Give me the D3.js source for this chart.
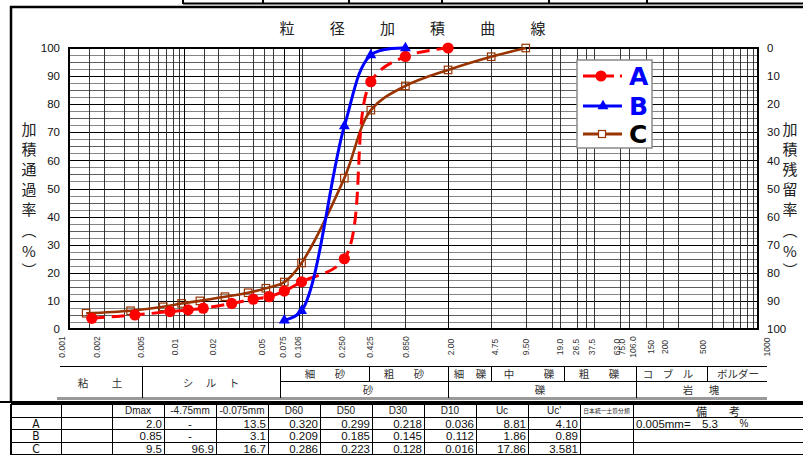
<!DOCTYPE html>
<html><head><meta charset="utf-8">
<script src="https://cdn.jsdelivr.net/npm/d3@7"></script>
<style>body{margin:0;background:#fff;} svg{display:block;}</style>
</head><body><svg id="c" width="803" height="455"></svg>
<script>
// ---------------- DATA ----------------
const sizesA = [0.00158,0.00375,0.00757,0.0109,0.01475,0.0261,0.0402,0.0553,0.075,0.106,0.25,0.425,0.85,2.0];
const passA  = [3.8,5.0,6.2,6.8,7.4,9.1,10.6,11.5,13.5,16.8,25,88,97,100];
const sizesB = [0.075,0.106,0.25,0.425,0.85];
const passB  = [3.1,6.5,72.2,97.5,100];
const sizesC = [0.00141,0.00344,0.00662,0.00957,0.0138,0.0228,0.0363,0.0518,0.075,0.106,0.25,0.425,0.85,2.0,4.75,9.5];
const passC  = [5.6,6.5,7.9,9.1,10.0,11.5,12.9,14.5,16.7,23.5,53.7,77.9,86.5,92.2,96.9,100];
const seriesNames = ["A","B","C"];
const xTickValues = [0.001,0.002,0.005,0.01,0.02,0.05,0.075,0.106,0.25,0.425,0.85,2,4.75,9.5,19,26.5,37.5,63,75,106,150,200,500,1000];
const xTickLabels = ["0.001","0.002","0.005","0.01","0.02","0.05","0.075","0.106","0.250","0.425","0.850","2.00","4.75","9.50","19.0","26.5","37.5","63.0","75.0","106.0","150","200","500","1000"];
const yTicks = [0,10,20,30,40,50,60,70,80,90,100];
const gridSizes = [0.0015,0.002,0.003,0.004,0.005,0.006,0.007,0.008,0.009,0.01,0.015,0.02,0.03,0.04,0.05,0.06,0.075,0.1,0.106,0.25,0.425,0.85,2,4.75,9.5,16,19,26.5,31.5,37.5,63,75,106,150,200,400,500,600,700,800,900];
const titleChars = ["粒","径","加","積","曲","線"];
const leftTitle = ["加","積","通","過","率","︵","%","︶"];
const rightTitle = ["加","積","残","留","率","︵","%","︶"];
const tableHeader = ["","","Dmax","-4.75mm","-0.075mm","D60","D50","D30","D10","Uc","Uc'","日本統一土質分類","備　　考"];
const rowA = ["A","","2.0","-","13.5","0.320","0.299","0.218","0.036","8.81","4.10","",""];
const rowB = ["B","","0.85","-","3.1","0.209","0.185","0.145","0.112","1.86","0.89","",""];
const rowC = ["C","","9.5","96.9","16.7","0.286","0.223","0.128","0.016","17.86","3.581","",""];
const remarkA = ["0.005mm=","5.3","%"];

// ---------------- LAYOUT ----------------
const svg = d3.select("#c");
const M = {l:69, r:758, t:48, b:329};
const x = d3.scaleLog().domain([0.001,1000]).range([M.l,M.r]);
const y = d3.scaleLinear().domain([0,100]).range([M.b,M.t]);
const yR = d3.scaleLinear().domain([100,0]).range([M.b,M.t]);
const xLab = d3.scaleLog()
  .domain([0.001,0.01,0.075,0.1,1,4.75,10,63,100,200,500,1000])
  .range([62,175,283,294,414,495,528,617,630,665,703,767]);
const SANS = "'Liberation Sans', Arial, sans-serif";
const CJK = "'Noto Sans CJK JP', 'Noto Sans', sans-serif";

// top decorations
const topCols = [183,263,349,442,549,647];
svg.selectAll(".tc").data(topCols).enter().append("line")
  .attr("x1",d=>d).attr("x2",d=>d).attr("y1",0).attr("y2",4)
  .attr("stroke","#000").attr("stroke-width",2);
svg.append("line").attr("x1",183).attr("x2",803).attr("y1",3.5).attr("y2",3.5).attr("stroke","#000").attr("stroke-width",2);
// frame
svg.append("path").attr("d","M11,402 L11,7 L803,7").attr("fill","none").attr("stroke","#000").attr("stroke-width",2.5);
svg.append("line").attr("x1",0).attr("x2",803).attr("y1",402).attr("y2",402).attr("stroke","#000").attr("stroke-width",2);

// title
svg.selectAll(".tt").data(titleChars).enter().append("text")
  .attr("x",(d,i)=>287+i*50.2).attr("y",34).attr("text-anchor","middle")
  .attr("font-family",CJK).attr("font-size",15).attr("fill","#222").text(d=>d);

// grid
const grid = svg.append("g").attr("shape-rendering","crispEdges");
grid.selectAll(".hg").data(d3.range(0,100.01,2.5)).enter().append("line")
  .attr("x1",M.l).attr("x2",M.r).attr("y1",d=>Math.round(y(d))+0.5).attr("y2",d=>Math.round(y(d))+0.5)
  .attr("stroke",d=>d%10===0?"#000":(d%5===0?"#333":"#666"))
  .attr("stroke-width",d=>d%10===0?1.2:0.8);
const majorV = [0.01,0.075,0.1,2];
grid.selectAll(".vg").data(gridSizes).enter().append("line")
  .attr("x1",d=>Math.round(x(d))+0.5).attr("x2",d=>Math.round(x(d))+0.5).attr("y1",M.t).attr("y2",M.b)
  .attr("stroke",d=>majorV.includes(d)?"#000":"#222")
  .attr("stroke-width",d=>majorV.includes(d)?1.4:0.9);
svg.append("rect").attr("x",M.l).attr("y",M.t).attr("width",M.r-M.l).attr("height",M.b-M.t)
  .attr("fill","none").attr("stroke","#000").attr("stroke-width",2);

// axes
const axL = svg.append("g").attr("transform",`translate(${M.l},0)`)
  .call(d3.axisLeft(y).tickValues(yTicks).tickSize(0).tickPadding(9));
const axR = svg.append("g").attr("transform",`translate(${M.r},0)`)
  .call(d3.axisRight(yR).tickValues(yTicks).tickSize(0).tickPadding(9));
[axL,axR].forEach(a=>{a.select(".domain").remove();
  a.selectAll("text").attr("font-family",SANS).attr("font-size",11.5).attr("fill","#111");});
const axB = svg.append("g").attr("transform",`translate(0,${M.b})`)
  .call(d3.axisBottom(xLab).tickValues(xTickValues).tickSize(0).tickFormat((d,i)=>xTickLabels[i]));
axB.select(".domain").remove();
axB.selectAll("text").attr("transform","rotate(-90)").attr("x",-18).attr("y",0).attr("dy","0.35em")
  .attr("text-anchor","middle").attr("font-family",SANS).attr("font-size",8.5).attr("fill","#333");

// axis titles
const tY = [128,148,168,188,208,229,250,269];
svg.selectAll(".lt").data(leftTitle).enter().append("text")
  .attr("x",29).attr("y",(d,i)=>tY[i]).attr("text-anchor","middle").attr("dominant-baseline","central")
  .attr("font-family",CJK).attr("font-size",15).attr("fill","#222").text(d=>d);
svg.selectAll(".rt").data(rightTitle).enter().append("text")
  .attr("x",790).attr("y",(d,i)=>tY[i]).attr("text-anchor","middle").attr("dominant-baseline","central")
  .attr("font-family",CJK).attr("font-size",15).attr("fill","#222").text(d=>d);

// series
const colors = {A:"#ff0000",B:"#0000ff",C:"#993300"};
const mk = (s,p)=>s.map((v,i)=>({s:v,p:p[i]}));
const data = {A:mk(sizesA,passA),B:mk(sizesB,passB),C:mk(sizesC,passC)};
const line = d3.line().x(d=>x(d.s)).y(d=>y(d.p)).curve(d3.curveCatmullRom.alpha(0.5));
const plot = svg.append("g");
// C
plot.append("path").attr("d",line(data.C)).attr("fill","none").attr("stroke",colors.C).attr("stroke-width",2.6);
plot.selectAll(".mc").data(data.C).enter().append("rect")
  .attr("x",d=>x(d.s)-3.75).attr("y",d=>y(d.p)-3.75).attr("width",7.5).attr("height",7.5)
  .attr("fill","none").attr("stroke",colors.C).attr("stroke-width",1.2);
// A
plot.append("path").attr("d",line(data.A)).attr("fill","none").attr("stroke",colors.A).attr("stroke-width",3).attr("stroke-dasharray","13,7");
plot.selectAll(".ma").data(data.A).enter().append("circle")
  .attr("cx",d=>x(d.s)).attr("cy",d=>y(d.p)).attr("r",5.6).attr("fill",colors.A);
// B
plot.append("path").attr("d",line(data.B)).attr("fill","none").attr("stroke",colors.B).attr("stroke-width",3);
const tri = d3.symbol().type(d3.symbolTriangle).size(52);
plot.selectAll(".mb").data(data.B).enter().append("path")
  .attr("transform",d=>`translate(${x(d.s)},${y(d.p)})`).attr("d",tri).attr("fill",colors.B);

// legend
const lg = svg.append("g").attr("transform","translate(577,60)");
lg.append("rect").attr("width",75).attr("height",88).attr("fill","#fff").attr("stroke","#8a8a8a").attr("stroke-width",1.5);
const rowsY = [16,46,74];
seriesNames.forEach((n,i)=>{
  const yy = rowsY[i];
  const ln = lg.append("line").attr("x1",6).attr("x2",45).attr("y1",yy).attr("y2",yy)
    .attr("stroke",colors[n]).attr("stroke-width",3);
  if(n==="A"){ ln.attr("stroke-dasharray","31,6,8,20"); lg.append("circle").attr("cx",24).attr("cy",yy).attr("r",5.6).attr("fill",colors.A); }
  if(n==="B"){ lg.append("path").attr("transform",`translate(26,${yy})`).attr("d",tri).attr("fill",colors.B); }
  if(n==="C"){ lg.append("rect").attr("x",21.5).attr("y",yy-3.5).attr("width",7).attr("height",7).attr("fill","#fff").attr("stroke",colors.C).attr("stroke-width",1.2); }
  lg.append("text").attr("x",52).attr("y",yy+9).attr("font-family","'DejaVu Sans', sans-serif").attr("font-weight","bold")
    .attr("font-size",25).attr("fill",n==="C"?"#000":"#0000ff").text(n);
});

// classification band
const bandTop = 366, bandMid = 381, bandBot = 398;
const band = svg.append("g").attr("shape-rendering","crispEdges");
band.append("line").attr("x1",60).attr("x2",767).attr("y1",bandTop).attr("y2",bandTop).attr("stroke","#000");
band.append("line").attr("x1",280).attr("x2",767).attr("y1",bandMid).attr("y2",bandMid).attr("stroke","#000");
band.append("line").attr("x1",57).attr("x2",767).attr("y1",bandBot).attr("y2",bandBot).attr("stroke","#999").attr("stroke-width",3);
const fullDiv = [142,280,448,636];
const upDiv = [369,491,564,707];
fullDiv.forEach(v=>band.append("line").attr("x1",v).attr("x2",v).attr("y1",bandTop).attr("y2",bandBot).attr("stroke","#000"));
upDiv.forEach(v=>band.append("line").attr("x1",v).attr("x2",v).attr("y1",bandTop).attr("y2",bandMid).attr("stroke","#000"));
const bandLabels = [
  {t:["粘","土"],c:100,y:382,sp:34},
  {t:["シ","ル","ト"],c:211,y:382,sp:23},
  {t:["細","砂"],c:325,y:373.5,sp:30},
  {t:["粗","砂"],c:404,y:373.5,sp:30},
  {t:["細","礫"],c:470,y:373.5,sp:22},
  {t:["中","礫"],c:529,y:373.5,sp:40},
  {t:["粗","礫"],c:599,y:373.5,sp:30},
  {t:["コ","ブ","ル"],c:668,y:373.5,sp:20},
  {t:["ボルダー"],c:738,y:373.5,sp:0},
  {t:["砂"],c:368,y:389.5,sp:0},
  {t:["礫"],c:540,y:389.5,sp:0},
  {t:["岩","塊"],c:701,y:389.5,sp:26}
];
bandLabels.forEach(b=>{
  const n=b.t.length;
  b.t.forEach((ch,i)=>{
    svg.append("text").attr("x",b.c+(i-(n-1)/2)*b.sp).attr("y",b.y).attr("dominant-baseline","central")
      .attr("text-anchor","middle").attr("font-family",CJK).attr("font-size",10.5).attr("fill","#333").text(ch);
  });
});

// table
const colEdges = [11,61,112,164,216,268,320,372,424,476,528,580,633,803];
const rowEdges = [404,417,429.5,442,454.5];
const tb = svg.append("g").attr("shape-rendering","crispEdges");
rowEdges.forEach((r,i)=>tb.append("line").attr("x1",11).attr("x2",803).attr("y1",r).attr("y2",r).attr("stroke","#000").attr("stroke-width",i===0?1.5:1));
colEdges.forEach(c=>tb.append("line").attr("x1",c).attr("x2",c).attr("y1",rowEdges[0]).attr("y2",455).attr("stroke","#000").attr("stroke-width",c===11?2:1));
tableHeader.forEach((h,i)=>{
  if(!h) return;
  const cx=(colEdges[i]+colEdges[i+1])/2;
  svg.append("text").attr("x",cx).attr("y",(rowEdges[0]+rowEdges[1])/2).attr("dominant-baseline","central")
    .attr("text-anchor","middle").attr("font-family",i>=11?CJK:SANS)
    .attr("font-size",i===11?5.8:(i===12?11:10)).attr("fill","#222").text(h);
});
[rowA,rowB,rowC].forEach((row,ri)=>{
  const cy=(rowEdges[ri+1]+rowEdges[ri+2])/2;
  row.forEach((v,i)=>{
    if(!v) return;
    let xx, anchor;
    if(i===0||v==="-"){ xx=(colEdges[i]+colEdges[i+1])/2; anchor="middle"; }
    else { xx=colEdges[i+1]-2; anchor="end"; }
    svg.append("text").attr("x",xx).attr("y",cy+0.5).attr("dominant-baseline","central").attr("text-anchor",anchor)
      .attr("font-family",i===0?"'Liberation Sans Narrow','DejaVu Sans Condensed',sans-serif":SANS)
      .attr("font-size",i===0?12:11.5).attr("fill","#111").text(v);
  });
});
const rY=(rowEdges[1]+rowEdges[2])/2+0.5;
svg.append("text").attr("x",636).attr("y",rY).attr("dominant-baseline","central").attr("font-family",SANS).attr("font-size",11.5).attr("fill","#111").text(remarkA[0]);
svg.append("text").attr("x",710).attr("y",rY).attr("dominant-baseline","central").attr("text-anchor","middle").attr("font-family",SANS).attr("font-size",11.5).attr("fill","#111").text(remarkA[1]);
svg.append("text").attr("x",744).attr("y",rY).attr("dominant-baseline","central").attr("text-anchor","middle").attr("font-family",SANS).attr("font-size",10).attr("fill","#111").text(remarkA[2]);
</script></body></html>
